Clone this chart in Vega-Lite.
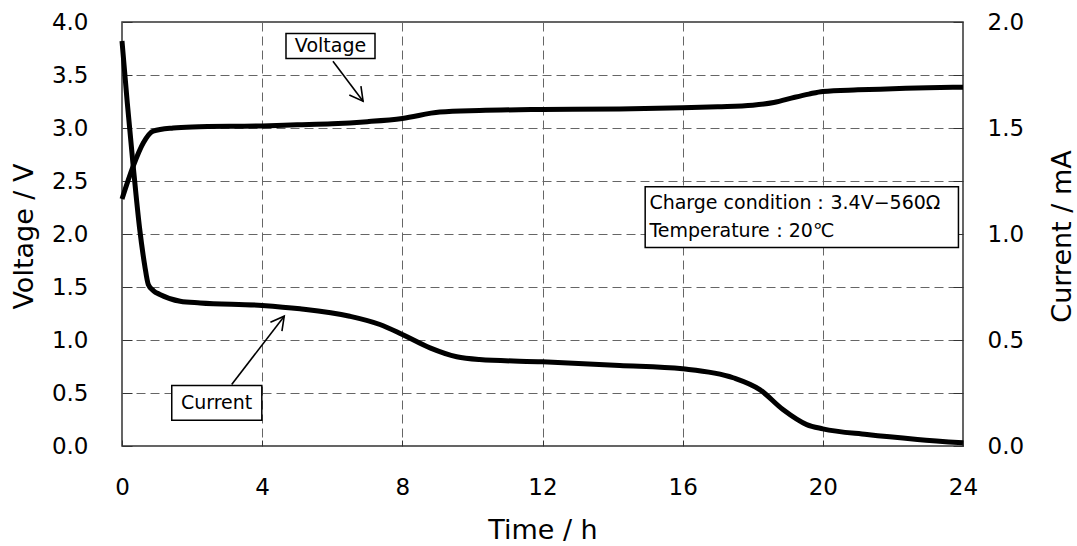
{
  "$schema": "https://vega.github.io/schema/vega-lite/v6.json",
  "autosize": "none",
  "width": 841,
  "height": 424,
  "padding": {"left": 122, "top": 22, "right": 114, "bottom": 100},
  "background": "white",
  "config": {
    "view": {"stroke": "#333", "strokeWidth": 1.5},
    "axis": {
      "labelFont": "DejaVu Sans", "labelFontSize": 23, "labelColor": "black",
      "labelFlush": false, "labelOverlap": false, "labelBound": false,
      "titleFont": "DejaVu Sans", "titleFontSize": 27, "titleFontWeight": "normal", "titleColor": "black",
      "titleAlign": "center", "titleBaseline": "middle",
      "domain": false, "tickColor": "#333", "tickWidth": 1,
      "gridColor": "#666", "gridDash": [9, 5], "gridWidth": 1
    }
  },
  "datasets": {
    "voltage": [
      {"t": 0, "v": 2.33}, {"t": 0.32, "v": 2.64}, {"t": 0.61, "v": 2.86}, {"t": 0.89, "v": 2.97},
      {"t": 1.46, "v": 3.0}, {"t": 2, "v": 3.01}, {"t": 4, "v": 3.02}, {"t": 5, "v": 3.03},
      {"t": 6, "v": 3.04}, {"t": 7, "v": 3.06}, {"t": 8, "v": 3.09}, {"t": 9.07, "v": 3.15},
      {"t": 10.2, "v": 3.165}, {"t": 12, "v": 3.175}, {"t": 14.2, "v": 3.18}, {"t": 16, "v": 3.19},
      {"t": 17, "v": 3.2}, {"t": 18, "v": 3.215}, {"t": 18.6, "v": 3.24}, {"t": 19.2, "v": 3.29},
      {"t": 19.6, "v": 3.32}, {"t": 20, "v": 3.345}, {"t": 21, "v": 3.36}, {"t": 22, "v": 3.37},
      {"t": 23, "v": 3.38}, {"t": 24, "v": 3.385}
    ],
    "current": [
      {"t": 0, "i": 1.91}, {"t": 0.15, "i": 1.62}, {"t": 0.32, "i": 1.32}, {"t": 0.5, "i": 1.03},
      {"t": 0.65, "i": 0.85}, {"t": 0.75, "i": 0.762}, {"t": 0.9, "i": 0.732},
      {"t": 1.08, "i": 0.715}, {"t": 1.66, "i": 0.683}, {"t": 2.23, "i": 0.675}, {"t": 4, "i": 0.663},
      {"t": 5.08, "i": 0.647}, {"t": 6.5, "i": 0.612}, {"t": 7.36, "i": 0.573}, {"t": 8, "i": 0.526},
      {"t": 8.79, "i": 0.463}, {"t": 9.55, "i": 0.421}, {"t": 10.2, "i": 0.408}, {"t": 12, "i": 0.397},
      {"t": 14.2, "i": 0.38}, {"t": 16, "i": 0.364}, {"t": 17.44, "i": 0.322}, {"t": 18.2, "i": 0.266},
      {"t": 18.86, "i": 0.172}, {"t": 19.54, "i": 0.101}, {"t": 20, "i": 0.081}, {"t": 21.26, "i": 0.054},
      {"t": 22.7, "i": 0.031}, {"t": 24, "i": 0.015}
    ],
    "boxes": [
      {"x1": 4.68, "x2": 7.22, "y1": 3.655, "y2": 3.892},
      {"x1": 1.42, "x2": 3.99, "y1": 0.243, "y2": 0.571},
      {"x1": 14.93, "x2": 23.87, "y1": 1.873, "y2": 2.445}
    ],
    "centerLabels": [
      {"t": 5.95, "v": 3.77, "text": "Voltage"},
      {"t": 2.7, "v": 0.405, "text": "Current"}
    ],
    "condition": [
      {"t": 15.05, "v": 2.294, "text": "Charge condition：3.4V−560Ω"},
      {"t": 15.05, "v": 2.026, "text": "Temperature：20℃"}
    ],
    "arrows": [
      {"name": "Voltage", "t1": 6.02, "v1": 3.63, "t2": 6.88, "v2": 3.253},
      {"name": "Current", "t1": 3.13, "v1": 0.58, "t2": 4.63, "v2": 1.225}
    ]
  },
  "resolve": {"scale": {"y": "independent"}},
  "layer": [
    {
      "layer": [
        {
          "data": {"name": "voltage"},
          "mark": {"type": "line", "color": "black", "strokeWidth": 5, "interpolate": "monotone"},
          "encoding": {
            "x": {"field": "t", "type": "quantitative", "scale": {"domain": [0, 24], "nice": false},
              "axis": {"values": [0, 4, 8, 12, 16, 20, 24], "grid": true, "tickSize": -6, "labelPadding": 36, "title": "Time / h", "titleX": 420.5, "titleY": 84}},
            "y": {"field": "v", "type": "quantitative", "scale": {"domain": [0, 4], "nice": false},
              "axis": {"values": [0, 0.5, 1, 1.5, 2, 2.5, 3, 3.5, 4], "format": ".1f", "grid": true, "tickSize": -10, "labelPadding": 44, "title": "Voltage / V", "titleX": -98, "titleY": 214, "titleAngle": 270}}
          }
        },
        {
          "data": {"name": "boxes"},
          "mark": {"type": "rect", "fill": "white", "stroke": "black", "strokeWidth": 1.5},
          "encoding": {
            "x": {"field": "x1", "type": "quantitative"},
            "x2": {"field": "x2"},
            "y": {"field": "y1", "type": "quantitative", "scale": {"domain": [0, 4], "nice": false}},
            "y2": {"field": "y2"}
          }
        },
        {
          "data": {"name": "centerLabels"},
          "mark": {"type": "text", "font": "DejaVu Sans", "fontSize": 19, "color": "black", "align": "center", "baseline": "middle"},
          "encoding": {
            "x": {"field": "t", "type": "quantitative"},
            "y": {"field": "v", "type": "quantitative", "scale": {"domain": [0, 4], "nice": false}},
            "text": {"field": "text"}
          }
        },
        {
          "data": {"name": "condition"},
          "mark": {"type": "text", "font": "DejaVu Sans", "fontSize": 19, "color": "black", "align": "left", "baseline": "middle"},
          "encoding": {
            "x": {"field": "t", "type": "quantitative"},
            "y": {"field": "v", "type": "quantitative", "scale": {"domain": [0, 4], "nice": false}},
            "text": {"field": "text"}
          }
        },
        {
          "data": {"name": "arrows"},
          "mark": {"type": "rule", "color": "black", "strokeWidth": 1.6},
          "encoding": {
            "x": {"field": "t1", "type": "quantitative"},
            "x2": {"field": "t2"},
            "y": {"field": "v1", "type": "quantitative", "scale": {"domain": [0, 4], "nice": false}},
            "y2": {"field": "v2"}
          }
        },
        {
          "data": {"name": "arrows"},
          "transform": [{"filter": "datum.name === 'Voltage'"}],
          "mark": {"type": "point", "shape": "M-1,-0.55L0,0L-1,0.55", "size": 700, "filled": false, "stroke": "black", "strokeWidth": 1.6, "opacity": 1, "angle": 53},
          "encoding": {
            "x": {"field": "t2", "type": "quantitative"},
            "y": {"field": "v2", "type": "quantitative", "scale": {"domain": [0, 4], "nice": false}}
          }
        },
        {
          "data": {"name": "arrows"},
          "transform": [{"filter": "datum.name === 'Current'"}],
          "mark": {"type": "point", "shape": "M-1,-0.55L0,0L-1,0.55", "size": 700, "filled": false, "stroke": "black", "strokeWidth": 1.6, "opacity": 1, "angle": 307.6},
          "encoding": {
            "x": {"field": "t2", "type": "quantitative"},
            "y": {"field": "v2", "type": "quantitative", "scale": {"domain": [0, 4], "nice": false}}
          }
        }
      ]
    },
    {
      "data": {"name": "current"},
      "mark": {"type": "line", "color": "black", "strokeWidth": 5, "interpolate": "monotone"},
      "encoding": {
        "x": {"field": "t", "type": "quantitative"},
        "y": {"field": "i", "type": "quantitative", "scale": {"domain": [0, 2], "nice": false},
          "axis": {"orient": "right", "values": [0, 0.25, 0.5, 0.75, 1, 1.25, 1.5, 1.75, 2], "labelExpr": "(round(datum.value * 4) % 2 == 0) ? format(datum.value, '.1f') : ''", "grid": false, "tickSize": -10, "labelPadding": 34, "title": "Current / mA", "titleAngle": 270, "titleX": 99, "titleY": 214}}
      }
    }
  ]
}
